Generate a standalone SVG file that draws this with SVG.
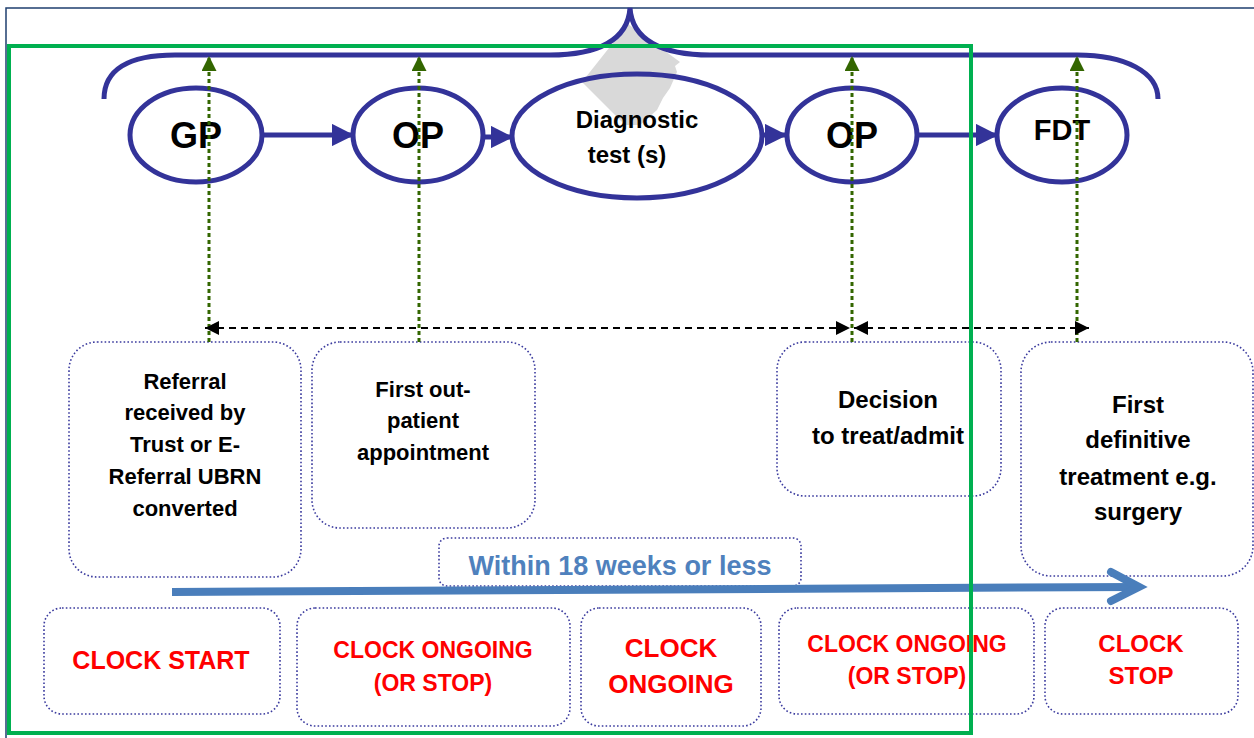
<svg xmlns="http://www.w3.org/2000/svg" width="1254" height="738" viewBox="0 0 1254 738">
<defs>
<style>
.ell{fill:#fff;stroke:#333399;stroke-width:5}
.box{fill:#fff;stroke:#3B3B9E;stroke-width:1.6;stroke-dasharray:1.6 2.2}
.t{font-family:"Liberation Sans",Arial,sans-serif;font-weight:bold;text-anchor:middle;fill:#000}
.r{fill:#FF0000}
.flow{stroke:#333399;stroke-width:5;fill:none}
.vg{stroke:#336600;stroke-width:3;stroke-dasharray:4 3;fill:none}
.hd{stroke:#000;stroke-width:2;stroke-dasharray:7 5;fill:none}
</style>
<marker id="ah" viewBox="0 0 10 10" refX="9" refY="5" markerWidth="4.5" markerHeight="4.5" markerUnits="strokeWidth" orient="auto"><path d="M0,0 L10,5 L0,10 z" fill="#333399"/></marker>
<marker id="gh" viewBox="0 0 10 10" refX="10" refY="5" markerWidth="5" markerHeight="5" markerUnits="strokeWidth" orient="auto"><path d="M0,0 L10,5 L0,10 z" fill="#336600"/></marker>
<marker id="bh" viewBox="0 0 10 10" refX="10" refY="5" markerWidth="7" markerHeight="7" markerUnits="strokeWidth" orient="auto-start-reverse"><path d="M0,0 L10,5 L0,10 z" fill="#000"/></marker>
</defs>
<rect x="0" y="0" width="1254" height="738" fill="#fff"/>
<rect x="6" y="8" width="1270" height="760" fill="none" stroke="#1F3F6F" stroke-width="1.5"/>
<g id="connectors">
<line class="flow" x1="262" y1="135" x2="352" y2="135" marker-end="url(#ah)"/>
<line class="flow" x1="483" y1="137" x2="511" y2="137" marker-end="url(#ah)"/>
<line class="flow" x1="762" y1="135" x2="785" y2="135" marker-end="url(#ah)"/>
<line class="flow" x1="917" y1="135" x2="996" y2="135" marker-end="url(#ah)"/>
</g>
<g id="node-gp"><ellipse class="ell" cx="196" cy="135" rx="66" ry="47"/><text class="t" x="196" y="148" font-size="36">GP</text></g>
<g id="node-op1"><ellipse class="ell" cx="418" cy="135" rx="65" ry="47"/><text class="t" x="418" y="148" font-size="36">OP</text></g>
<g id="node-diag"><ellipse cx="637" cy="136" rx="125" ry="62" fill="#fff"/>
<polygon points="628,24 680,62 675,66 677,72 670,88 663,98 657,110 640,125 625,125 582,82" fill="#D9D9D9"/>
<ellipse cx="637" cy="136" rx="125" ry="62" fill="none" stroke="#333399" stroke-width="5"/>
<text class="t" x="637" y="128" font-size="24">Diagnostic</text><text class="t" x="627" y="163" font-size="24">test (s)</text></g>
<g id="brace">
<path d="M104 99 C104 70 128 55 175 55 L550 55 C598 55 628 40 630 8 C632 40 662 55 710 55 L1077 55 C1125 55 1158 72 1158 99" fill="none" stroke="#333399" stroke-width="5"/>
</g>
<g id="node-op2"><ellipse class="ell" cx="852" cy="135" rx="65" ry="47"/><text class="t" x="852" y="148" font-size="36">OP</text></g>
<g id="node-fdt"><ellipse class="ell" cx="1062" cy="135" rx="65" ry="47"/><text class="t" x="1062" y="140" font-size="29">FDT</text></g>
<g id="node-referral"><rect class="box" x="69" y="342" width="232" height="235" rx="28"/>
<text class="t" font-size="22"><tspan x="185" y="389">Referral</tspan><tspan x="185" y="420">received by</tspan><tspan x="185" y="452">Trust or E-</tspan><tspan x="185" y="484">Referral UBRN</tspan><tspan x="185" y="516">converted</tspan></text></g>
<g id="node-firstop"><rect class="box" x="312" y="342" width="223" height="186" rx="28"/>
<text class="t" font-size="22"><tspan x="423" y="397">First out-</tspan><tspan x="423" y="428">patient</tspan><tspan x="423" y="460">appointment</tspan></text></g>
<g id="node-decision"><rect class="box" x="777" y="342" width="224" height="154" rx="28"/>
<text class="t" font-size="24"><tspan x="888" y="408">Decision</tspan><tspan x="888" y="444">to treat/admit</tspan></text></g>
<g id="node-fdtbox"><rect class="box" x="1021" y="342" width="232" height="234" rx="30"/>
<text class="t" font-size="24"><tspan x="1138" y="413">First</tspan><tspan x="1138" y="448">definitive</tspan><tspan x="1138" y="485">treatment e.g.</tspan><tspan x="1138" y="520">surgery</tspan></text></g>
<g id="node-within"><rect class="box" x="439" y="538" width="362" height="48" rx="8"/><text class="t" x="620" y="575" font-size="27" style="fill:#4F81BD">Within 18 weeks or less</text></g>
<g id="node-cs"><rect class="box" x="44" y="608" width="236" height="106" rx="18"/><text class="t r" x="161" y="669" font-size="25">CLOCK START</text></g>
<g id="node-co1"><rect class="box" x="297" y="608" width="273" height="118" rx="18"/><text class="t r" font-size="23"><tspan x="433" y="658">CLOCK ONGOING</tspan><tspan x="433" y="691">(OR STOP)</tspan></text></g>
<g id="node-co2"><rect class="box" x="581" y="608" width="180" height="118" rx="18"/><text class="t r" font-size="26"><tspan x="671" y="657">CLOCK</tspan><tspan x="671" y="693">ONGOING</tspan></text></g>
<g id="node-co3"><rect class="box" x="779" y="608" width="255" height="106" rx="18"/><text class="t r" font-size="23"><tspan x="907" y="652">CLOCK ONGOING</tspan><tspan x="907" y="684">(OR STOP)</tspan></text></g>
<g id="node-stop"><rect class="box" x="1045" y="608" width="193" height="106" rx="18"/><text class="t r" font-size="24"><tspan x="1141" y="652">CLOCK</tspan><tspan x="1141" y="684">STOP</tspan></text></g>
<g id="connectors-timeline">
<line class="vg" x1="209" y1="342" x2="209" y2="56" marker-end="url(#gh)"/>
<line class="vg" x1="419" y1="342" x2="419" y2="56" marker-end="url(#gh)"/>
<line class="vg" x1="852" y1="342" x2="852" y2="56" marker-end="url(#gh)"/>
<line class="vg" x1="1077" y1="342" x2="1077" y2="56" marker-end="url(#gh)"/>
<line class="hd" x1="205" y1="328" x2="850" y2="328" marker-start="url(#bh)" marker-end="url(#bh)"/>
<line class="hd" x1="854" y1="328" x2="1089" y2="328" marker-start="url(#bh)" marker-end="url(#bh)"/>
<line x1="172" y1="592" x2="1136" y2="587" stroke="#4A7EBB" stroke-width="8"/>
<polyline points="1111,572 1139,587 1111,601" fill="none" stroke="#4A7EBB" stroke-width="8" stroke-linecap="round" stroke-linejoin="miter"/>
</g>
<rect id="highlight" x="9" y="46" width="962" height="687" fill="none" stroke="#00B050" stroke-width="4"/>
</svg>
